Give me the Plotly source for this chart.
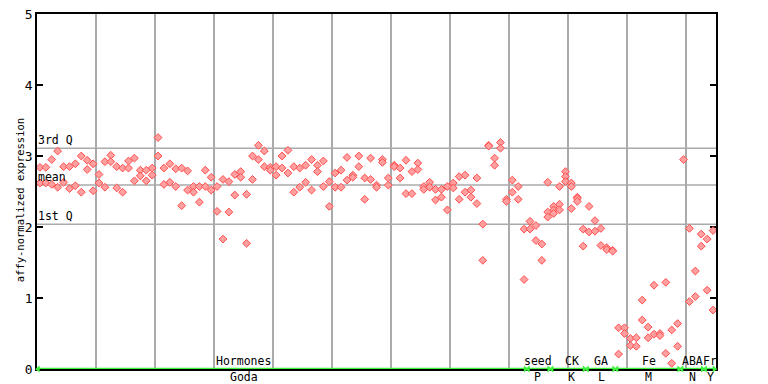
import plotly.graph_objects as go

# ---------------- data (replicate values per sample, in sample order) ----------------
goda = [
    [2.84, 2.62], [2.84, 2.62], [2.95, 2.60], [3.07, 2.56], [2.85, 2.63],
    [2.85, 2.54], [2.89, 2.58], [3.00, 2.49], [2.94, 2.81], [2.89, 2.51],
    [2.74, 2.62], [2.92, 2.56], [3.01, 2.92], [2.85, 2.55], [2.83, 2.49],
    [2.93, 2.83], [2.97, 2.65], [2.80, 2.72], [2.80, 2.65], [2.83, 2.73],
    [3.26, 3.00], [2.83, 2.60], [2.89, 2.63], [2.82, 2.57], [2.83, 2.30],
    [2.79, 2.52], [2.57, 2.49], [2.57, 2.35], [2.80, 2.57], [2.70, 2.52],
    [2.57, 2.22], [2.67, 1.83], [2.64, 2.21], [2.74, 2.45], [2.78, 2.70],
    [2.46, 1.77], [3.00, 2.67], [3.15, 2.95], [3.07, 2.85], [2.84, 2.80],
    [2.85, 2.73], [3.00, 2.83], [3.08, 2.76], [2.85, 2.49], [2.83, 2.56],
    [2.87, 2.63], [2.95, 2.52], [2.87, 2.78], [2.93, 2.57], [2.64, 2.29],
    [2.76, 2.56], [2.80, 2.56], [2.98, 2.66], [2.73, 2.70], [3.00, 2.85],
    [2.69, 2.39], [2.97, 2.67], [2.59, 2.56], [2.95, 2.91], [2.69, 2.59],
    [2.87, 2.85], [2.83, 2.69], [2.94, 2.47], [2.78, 2.47], [2.90, 2.81],
    [2.57, 2.53], [2.63, 2.56], [2.53, 2.38], [2.53, 2.42], [2.57, 2.24],
    [2.62, 2.55], [2.71, 2.39], [2.73, 2.49], [2.52, 2.42], [2.69, 2.33],
    [2.04, 1.53], [3.15, 3.14], [2.97, 2.87], [3.19, 3.11], [2.39, 2.36],
    [2.66, 2.49], [2.57, 2.39], [1.97, 1.26],
]
seed_P = [[2.08, 1.97], [2.02, 1.81], [1.76, 1.53], [2.63, 2.21, 2.14]]
ck_K = [[2.29, 2.24, 2.19], [2.57, 2.32, 2.24], [2.78, 2.71, 2.64],
        [2.62, 2.57, 2.26], [2.42, 2.40, 2.36], [1.97, 1.73]]
ga_L = [[2.29, 1.93], [2.09, 1.94], [1.98, 1.74], [1.71, 1.68], [1.67, 1.66]]
fe_M = [[0.58, 0.21], [0.58, 0.50], [0.43, 0.33], [0.44, 0.32], [0.97, 0.69],
        [0.59, 0.44], [1.18, 0.49], [0.50, 0.47], [1.22, 0.22], [0.55, 0.08],
        [0.64, 0.32]]
aba_N = [[2.95], [1.98, 0.95], [1.38, 1.02], [1.90, 1.73]]
fr_Y = [[1.83, 1.11], [1.95, 0.83]]

groups = [goda, seed_P, ck_K, ga_L, fe_M, aba_N, fr_Y]
top_labels = ["Hormones", "seed", "CK", "GA", "Fe", "ABA", "Fr"]
bottom_labels = ["Goda", "P", "K", "L", "M", "N", "Y"]
label_pos = [34.5, 84.3, 90.1, 95.1, 103.1, 110.5, 113.5]

q3_value = 3.11
mean_value = 2.59
q1_value = 2.04
y_ticks = [0, 1, 2, 3, 4, 5]

# ---------------- build ----------------
xs, ys = [], []
starts, ends = [], []
col = 0
for g in groups:
    starts.append(col)
    for reps in g:
        for v in reps:
            xs.append(col)
            ys.append(v)
        col += 1
    ends.append(col - 1)
n_cols = col

FONT = "DejaVu Sans Mono"
RED = "#ff4d4d"
GRID = "#aaaaaa"
GREEN = "#3cf03c"

fig = go.Figure()

# green group arrows along the baseline
for s, e in zip(starts, ends):
    fig.add_trace(go.Scatter(
        x=[s - 0.3, e + 0.2], y=[0, 0], mode="lines+markers",
        line=dict(color=GREEN, width=2.5),
        marker=dict(symbol=["triangle-left", "triangle-right"], size=6, color=GREEN),
        cliponaxis=False, hoverinfo="skip", showlegend=False))

fig.add_trace(go.Scatter(
    x=xs, y=ys, mode="markers",
    marker=dict(symbol="diamond", size=6, color="#ffa0a0",
                line=dict(color=RED, width=1)),
    showlegend=False))

for val in (q3_value, mean_value, q1_value):
    fig.add_shape(type="line", xref="paper", x0=0, x1=1, yref="y", y0=val, y1=val,
                  line=dict(color=GRID, width=1.5), layer="below")

for txt, val in (("3rd Q", q3_value), ("mean", mean_value), ("1st Q", q1_value)):
    fig.add_annotation(text=txt, xref="paper", x=0, xanchor="left", yref="y", y=val,
                       yanchor="bottom", showarrow=False, borderpad=0,
                       font=dict(family=FONT, size=11.5, color="black"))

for t, b, p in zip(top_labels, bottom_labels, label_pos):
    fig.add_annotation(text=t, x=p, xref="x", y=0, yref="y", yanchor="bottom",
                       showarrow=False, borderpad=0, yshift=0,
                       font=dict(family=FONT, size=11.5, color="black"))
    fig.add_annotation(text=b, x=p, xref="x", y=0, yref="y", yanchor="top",
                       showarrow=False, borderpad=0, yshift=0,
                       font=dict(family=FONT, size=11.5, color="black"))

fig.add_annotation(text="affy-normalized expression", xref="paper", yref="paper",
                   x=-0.037, y=0.475, textangle=-90, showarrow=False,
                   font=dict(family=FONT, size=10.5, color="black"))

fig.update_layout(
    width=768, height=384,
    margin=dict(l=37, r=52, t=14, b=15, autoexpand=False),
    paper_bgcolor="white", plot_bgcolor="white",
    font=dict(family=FONT, size=11.5, color="black"),
    xaxis=dict(range=[-0.5, n_cols - 0.5], tickvals=[9.5 + 10 * k for k in range(11)],
               showticklabels=False, ticks="", showgrid=True, gridcolor=GRID, gridwidth=1.5,
               zeroline=False, showline=True, linecolor="black", linewidth=1.5,
               mirror=True, layer="below traces", automargin=False),
    yaxis=dict(range=[0, 5], tickvals=y_ticks, ticks="inside", ticklen=6,
               tickcolor="black", tickwidth=1.5, showgrid=False, zeroline=False,
               showline=True, linecolor="black", linewidth=1.5, mirror="ticks",
               tickfont=dict(family=FONT, size=13), layer="below traces",
               automargin=False),
)

fig.write_html("out.html", config={"displayModeBar": False},
               post_script="document.body.style.margin='0';document.body.style.padding='0';")
